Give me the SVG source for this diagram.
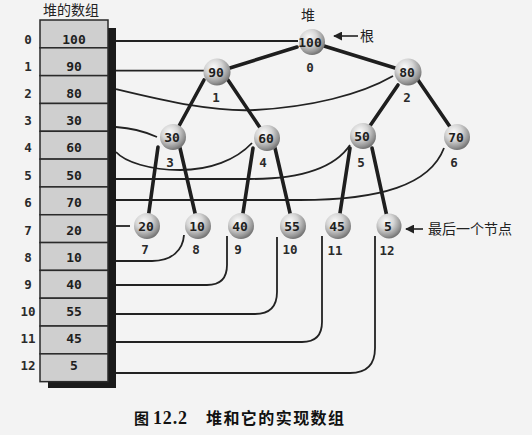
<svg xmlns="http://www.w3.org/2000/svg" width="532" height="435" viewBox="0 0 532 435">
<style>
.cell{fill:#cfcfcf;stroke:#2a2a2a;stroke-width:1.5}
.val{font-family:"DejaVu Sans Mono",monospace;font-weight:bold;font-size:13px;fill:#1e1e1e;text-anchor:middle}
.idx{font-family:"DejaVu Sans Mono",monospace;font-weight:bold;font-size:12.5px;fill:#2a2a2a;text-anchor:middle}
.cjk{font-family:"Noto Sans CJK SC",sans-serif;font-size:14px;fill:#222}
.edge{stroke:#1e1e1e;stroke-width:3.6;stroke-linecap:round;fill:none}
.link{stroke:#222;stroke-width:1.8;fill:none}
.ball{fill:url(#sph)}
.arr{stroke:#222;stroke-width:1.6;fill:none;marker-end:url(#ah)}
</style>
<defs>
<radialGradient id="sph" cx="38%" cy="32%" r="68%">
<stop offset="0" stop-color="#fbfbfb"/>
<stop offset="0.45" stop-color="#d6d6d6"/>
<stop offset="0.85" stop-color="#959595"/>
<stop offset="1" stop-color="#767676"/>
</radialGradient>
<marker id="ah" viewBox="0 0 10 10" refX="9" refY="5" markerWidth="9" markerHeight="9" markerUnits="userSpaceOnUse" orient="auto">
<path d="M0,0 L10,5 L0,10 Z" fill="#222"/>
</marker>
</defs>
<rect x="0" y="0" width="532" height="435" fill="#f3f3f3"/>

<text class="cjk" x="43" y="15">堆的数组</text>

<g id="array">
<rect x="48" y="28" width="68" height="360" fill="#1a1a1a"/>
<g id="cell0"><rect class="cell" x="40" y="20" width="68" height="27.82"/><text class="idx" x="28" y="43.8">0</text><text class="val" x="74" y="43.8">100</text></g>
<g id="cell1"><rect class="cell" x="40" y="47.82" width="68" height="27.82"/><text class="idx" x="28" y="71.2">1</text><text class="val" x="74" y="71.2">90</text></g>
<g id="cell2"><rect class="cell" x="40" y="75.64" width="68" height="27.82"/><text class="idx" x="28" y="97.8">2</text><text class="val" x="74" y="97.8">80</text></g>
<g id="cell3"><rect class="cell" x="40" y="103.46" width="68" height="27.82"/><text class="idx" x="28" y="125.2">3</text><text class="val" x="74" y="125.2">30</text></g>
<g id="cell4"><rect class="cell" x="40" y="131.28" width="68" height="27.82"/><text class="idx" x="28" y="152.2">4</text><text class="val" x="74" y="152.2">60</text></g>
<g id="cell5"><rect class="cell" x="40" y="159.1" width="68" height="27.82"/><text class="idx" x="28" y="179.5">5</text><text class="val" x="74" y="179.5">50</text></g>
<g id="cell6"><rect class="cell" x="40" y="186.92" width="68" height="27.82"/><text class="idx" x="28" y="207.2">6</text><text class="val" x="74" y="207.2">70</text></g>
<g id="cell7"><rect class="cell" x="40" y="214.74" width="68" height="27.82"/><text class="idx" x="28" y="234.5">7</text><text class="val" x="74" y="234.5">20</text></g>
<g id="cell8"><rect class="cell" x="40" y="242.56" width="68" height="27.82"/><text class="idx" x="28" y="261.8">8</text><text class="val" x="74" y="261.8">10</text></g>
<g id="cell9"><rect class="cell" x="40" y="270.38" width="68" height="27.82"/><text class="idx" x="28" y="288.5">9</text><text class="val" x="74" y="288.5">40</text></g>
<g id="cell10"><rect class="cell" x="40" y="298.2" width="68" height="27.82"/><text class="idx" x="28" y="315.5">10</text><text class="val" x="74" y="315.5">55</text></g>
<g id="cell11"><rect class="cell" x="40" y="326.02" width="68" height="27.82"/><text class="idx" x="28" y="342.5">11</text><text class="val" x="74" y="342.5">45</text></g>
<g id="cell12"><rect class="cell" x="40" y="353.84" width="68" height="27.82"/><text class="idx" x="28" y="370.2">12</text><text class="val" x="74" y="370.2">5</text></g>
</g>

<g id="connectors">
<path class="link" d="M116,41 H298"/>
<path class="link" d="M116,70.7 H204"/>
<path class="link" d="M116,89 C170,102 215,112 255,110 C310,107 360,95 393,76"/>
<path class="link" d="M116,127 C132,128 146,132 157,137"/>
<path class="link" d="M116,152 C125,162 150,170 180,170 C210,170 236,160 252,143"/>
<path class="link" d="M116,179 L250,179 C290,179 332,172 350,145"/>
<path class="link" d="M116,200 L300,200 C380,200 430,185 444,148"/>
<path class="link" d="M116,226 H130"/>
<path class="link" d="M116,261 H152 C172,261 183,250 184,235"/>
<path class="link" d="M116,285 H207 Q227,285 227,265 V236"/>
<path class="link" d="M116,314 H255 Q277,314 277,292 V237"/>
<path class="link" d="M116,342 H302 Q322,342 322,322 V236"/>
<path class="link" d="M116,373 H350 Q375,373 375,348 V236"/>
<path class="edge" d="M297,47 L217,72"/>
<path class="edge" d="M324,46 L408,72"/>
<path class="edge" d="M204,80 L173,137"/>
<path class="edge" d="M228,80 L267,138"/>
<path class="edge" d="M398,85 L363,136"/>
<path class="edge" d="M418,80 L457,137"/>
<path class="edge" d="M158,147 L147,226"/>
<path class="edge" d="M180,148 L198,226"/>
<path class="edge" d="M253,148 L241,226"/>
<path class="edge" d="M275,148 L293,226"/>
<path class="edge" d="M350,148 L338,226"/>
<path class="edge" d="M372,148 L389,226"/>
<path class="arr" d="M358,36 L334,36"/>
<path class="arr" d="M423,229 L406,229"/>
</g>

<g id="n0"><circle class="ball" cx="312" cy="42" r="13"/><text class="val" x="310" y="46.5">100</text><text class="idx" x="310" y="71.5">0</text></g>
<g id="n1"><circle class="ball" cx="217" cy="72" r="13.5"/><text class="val" x="216" y="76.5">90</text><text class="idx" x="216" y="101.5">1</text></g>
<g id="n2"><circle class="ball" cx="408" cy="72" r="13.5"/><text class="val" x="407" y="76.5">80</text><text class="idx" x="407" y="101.5">2</text></g>
<g id="n3"><circle class="ball" cx="173" cy="137" r="13"/><text class="val" x="172" y="141.5">30</text><text class="idx" x="170" y="166.5">3</text></g>
<g id="n4"><circle class="ball" cx="267" cy="138" r="13"/><text class="val" x="266" y="142.5">60</text><text class="idx" x="263" y="166.5">4</text></g>
<g id="n5"><circle class="ball" cx="363" cy="136" r="13"/><text class="val" x="362" y="140.5">50</text><text class="idx" x="361" y="166.5">5</text></g>
<g id="n6"><circle class="ball" cx="457" cy="137" r="13"/><text class="val" x="456" y="141.5">70</text><text class="idx" x="454" y="166.5">6</text></g>
<g id="n7"><circle class="ball" cx="147" cy="226" r="13"/><text class="val" x="146" y="230.5">20</text><text class="idx" x="145" y="253.5">7</text></g>
<g id="n8"><circle class="ball" cx="198" cy="226" r="13"/><text class="val" x="197" y="230.5">10</text><text class="idx" x="196" y="253.5">8</text></g>
<g id="n9"><circle class="ball" cx="241" cy="226" r="13"/><text class="val" x="240" y="230.5">40</text><text class="idx" x="238" y="253.5">9</text></g>
<g id="n10"><circle class="ball" cx="293" cy="226" r="13"/><text class="val" x="292" y="230.5">55</text><text class="idx" x="290" y="253.5">10</text></g>
<g id="n11"><circle class="ball" cx="338" cy="226" r="13"/><text class="val" x="337" y="230.5">45</text><text class="idx" x="335" y="254.5">11</text></g>
<g id="n12"><circle class="ball" cx="389" cy="226" r="12.5"/><text class="val" x="388" y="230.5">5</text><text class="idx" x="387" y="254.5">12</text></g>

<text class="cjk" x="308" y="20" text-anchor="middle" font-size="13">堆</text>
<text class="cjk" x="360" y="41">根</text>
<text class="cjk" x="428" y="234">最后一个节点</text>

<g id="caption">
<text x="134" y="424" font-family="Noto Sans CJK SC,sans-serif" font-weight="bold" font-size="15" fill="#111">图</text>
<text x="153" y="424" font-family="Liberation Serif,serif" font-weight="bold" font-size="18" fill="#111" textLength="34">12.2</text>
<text x="206" y="424" font-family="Noto Sans CJK SC,sans-serif" font-weight="bold" font-size="16" fill="#111" textLength="138">堆和它的实现数组</text>
</g>
</svg>
